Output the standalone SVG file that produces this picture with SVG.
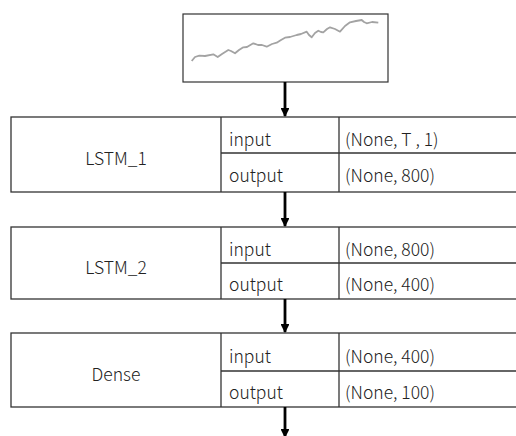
<svg xmlns="http://www.w3.org/2000/svg" width="516" height="436" viewBox="0 0 516 436">
<style>
.box{fill:#fff;stroke:#333;stroke-width:1.3}
.ln{stroke:#333;stroke-width:1.3;fill:none}
.t{font-family:"Noto Sans CJK SC","Liberation Sans",sans-serif;font-size:17.5px;font-weight:300;fill:#222}
.c{text-anchor:middle}
.arr{stroke:#000;stroke-width:2.8;fill:none;marker-end:url(#ah)}
</style>
<defs>
<marker id="ah" viewBox="0 0 10 10" refX="9" refY="5" markerWidth="3.2" markerHeight="3.2" orient="auto" markerUnits="strokeWidth">
<path d="M0,0 L10,5 L0,10 z" fill="#000"/>
</marker>
</defs>
<g id="chart">
<rect x="183" y="14" width="205" height="68" fill="#fff" stroke="#333" stroke-width="1.2"/>
<polyline fill="none" stroke="#a3a3a3" stroke-width="1.8" stroke-linejoin="round" points="191.7,61 195,57 199.3,55.7 205,56 213.3,54.3 217.7,57 222,54 228.3,50 231,51 235,53.3 239,50 243.3,47.3 247,47 253.3,43.3 258,45 262,45 266.7,46.7 272,44 276.7,42.7 281,40 285,37.7 290,37 296.7,35 301,34 306.7,31.7 309,35 311.7,37.3 315,33 318.3,30.7 321,32 323.3,32.3 327,29 330,27.3 335,29 340,31.7 345,26 350,22.3 356,21 361.7,20 364,22 366.7,23.3 372,22 378.3,22.7"/>
</g>
<g id="lstm1">
<rect class="box" x="11" y="117" width="510" height="75"/>
<line class="ln" x1="221" y1="117" x2="221" y2="192"/>
<line class="ln" x1="339" y1="117" x2="339" y2="192"/>
<line class="ln" x1="221" y1="153" x2="521" y2="153"/>
<text class="t c" x="116" y="165">LSTM_1</text>
<text class="t" x="229" y="146">input</text>
<text class="t" x="229" y="182">output</text>
<text class="t" x="345" y="146">(None, T , 1)</text>
<text class="t" x="345" y="182">(None, 800)</text>
</g>
<g id="lstm2">
<rect class="box" x="11" y="227" width="510" height="72"/>
<line class="ln" x1="221" y1="227" x2="221" y2="299"/>
<line class="ln" x1="339" y1="227" x2="339" y2="299"/>
<line class="ln" x1="221" y1="263" x2="521" y2="263"/>
<text class="t c" x="116" y="274">LSTM_2</text>
<text class="t" x="229" y="256">input</text>
<text class="t" x="229" y="291">output</text>
<text class="t" x="345" y="256">(None, 800)</text>
<text class="t" x="345" y="291">(None, 400)</text>
</g>
<g id="dense">
<rect class="box" x="11" y="333" width="510" height="74"/>
<line class="ln" x1="221" y1="333" x2="221" y2="407"/>
<line class="ln" x1="339" y1="333" x2="339" y2="407"/>
<line class="ln" x1="221" y1="371" x2="521" y2="371"/>
<text class="t c" x="116" y="381">Dense</text>
<text class="t" x="229" y="363">input</text>
<text class="t" x="229" y="399">output</text>
<text class="t" x="345" y="363">(None, 400)</text>
<text class="t" x="345" y="399">(None, 100)</text>
</g>
<g id="connectors">
<line class="arr" x1="285" y1="82" x2="285" y2="116"/>
<line class="arr" x1="285" y1="192" x2="285" y2="226"/>
<line class="arr" x1="285" y1="299" x2="285" y2="332"/>
<line class="arr" x1="285" y1="407" x2="285" y2="437"/>
</g>
</svg>
